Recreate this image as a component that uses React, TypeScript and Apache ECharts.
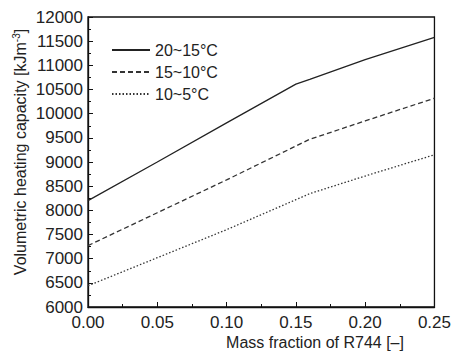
import React, { useEffect, useRef } from "react";
import * as echarts from "echarts";

const xValues = [0, 0.05, 0.1, 0.15, 0.16, 0.2, 0.25];
const seriesNames = ["20~15°C", "15~10°C", "10~5°C"];
const s1 = [8200, 9000, 9810, 10610, 10710, 11120, 11580];
const s2 = [7270, 7950, 8630, 9330, 9470, 9850, 10320];
const s3 = [6440, 7020, 7600, 8220, 8345, 8710, 9150];
const lineTypes: any[] = ["solid", [5, 3], [1.5, 2]];

export default function App() {
  const ref = useRef<HTMLDivElement>(null);
  useEffect(() => {
    const chart = echarts.init(ref.current!, null, { renderer: "svg" });
    const data = [s1, s2, s3];
    const font = "Liberation Sans, Arial, sans-serif";
    chart.setOption({
      animation: false,
      backgroundColor: "#fff",
      grid: { left: 88, right: 16, top: 17, bottom: 46, show: true, borderColor: "#111", borderWidth: 1.3 },
      legend: {
        left: 106,
        top: 37,
        orient: "vertical",
        itemWidth: 38,
        itemHeight: 10,
        itemGap: 6,
        itemStyle: { opacity: 0 },
        textStyle: { fontSize: 16, color: "#222", fontFamily: font },
        data: seriesNames,
      },
      xAxis: {
        type: "value",
        min: 0,
        max: 0.25,
        interval: 0.05,
        axisLine: { lineStyle: { color: "#111", width: 1.3 } },
        axisTick: { inside: true, length: 5, lineStyle: { color: "#111" } },
        minorTick: { show: true, splitNumber: 2, length: 3, lineStyle: { color: "#111" } },
        splitLine: { show: false },
        axisLabel: { fontSize: 17, color: "#222", fontFamily: font, margin: 7, formatter: (v: number) => v.toFixed(2) },
      },
      yAxis: {
        type: "value",
        min: 6000,
        max: 12000,
        interval: 500,
        axisLine: { lineStyle: { color: "#111", width: 1.3 } },
        axisTick: { inside: true, length: 5, lineStyle: { color: "#111" } },
        minorTick: { show: true, splitNumber: 2, length: 3, lineStyle: { color: "#111" } },
        splitLine: { show: false },
        axisLabel: { fontSize: 17, color: "#222", fontFamily: font, margin: 5, formatter: (v: number) => String(v) },
      },
      graphic: [
        {
          type: "text",
          x: 315,
          y: 342,
          style: { text: "Mass fraction of R744 [–]", fontSize: 16, fill: "#222", fontFamily: font, align: "center", verticalAlign: "middle" },
        },
        {
          type: "text",
          x: 20,
          y: 152,
          rotation: Math.PI / 2,
          style: {
            text: "Volumetric heating capacity [kJm{sup|-3}]",
            fontSize: 16,
            fill: "#222",
            fontFamily: font,
            align: "center",
            verticalAlign: "middle",
            rich: { sup: { fontSize: 10, fill: "#222", fontFamily: font, padding: [0, 0, 8, 0] } },
          },
        },
      ],
      series: data.map((d, i) => ({
        name: seriesNames[i],
        type: "line",
        symbol: "none",
        data: d.map((v, j) => [xValues[j], v]),
        lineStyle: { color: i === 0 ? "#222" : "#333", width: 1.3, type: lineTypes[i] },
        itemStyle: { color: "#222" },
      })),
    });
    return () => chart.dispose();
  }, []);
  return <div ref={ref} style={{ width: 454, height: 353, position: "absolute", left: 0, top: 0 }} />;
}
